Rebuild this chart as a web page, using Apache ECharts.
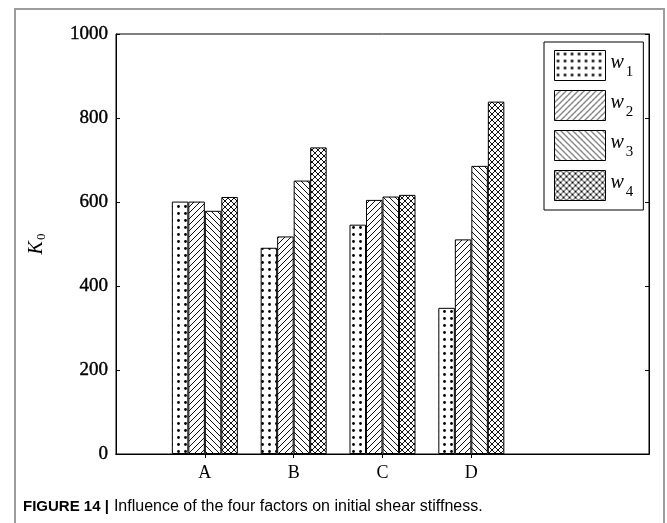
<!DOCTYPE html>
<html>
<head>
<meta charset="utf-8">
<script src="https://cdn.jsdelivr.net/npm/echarts@6/dist/echarts.min.js"></script>
<style>html,body{margin:0;padding:0;background:#fff;}#c{width:667px;height:523px;}</style>
</head>
<body>
<div id="c"></div>
<script>
// ---- data ----
const categories = ['A', 'B', 'C', 'D'];
const seriesNames = ['w1', 'w2', 'w3', 'w4'];
const w1 = [601, 491, 546, 348];
const w2 = [601, 518, 605, 511];
const w3 = [579, 651, 613, 686];
const w4 = [612, 730, 617, 839];
const yTicks = [0, 200, 400, 600, 800, 1000];
const captionBold = 'FIGURE 14 |';
const captionText = 'Influence of the four factors on initial shear stiffness.';

// ---- hatch patterns ----
function tile(w, h, draw) {
  const c = document.createElement('canvas');
  c.width = w; c.height = h;
  const g = c.getContext('2d');
  g.fillStyle = '#fff'; g.fillRect(0, 0, w, h);
  g.strokeStyle = '#111'; g.fillStyle = '#000'; g.lineWidth = 1;
  draw(g, w, h);
  return { image: c, repeat: 'repeat' };
}
function fwd(g, s) { // "/"
  g.beginPath();
  g.moveTo(-1, s + 1); g.lineTo(s + 1, -1);
  g.moveTo(-1, 1); g.lineTo(1, -1);
  g.moveTo(s - 1, s + 1); g.lineTo(s + 1, s - 1);
  g.stroke();
}
function back(g, s) { // "\"
  g.beginPath();
  g.moveTo(-1, -1); g.lineTo(s + 1, s + 1);
  g.moveTo(s - 1, -1); g.lineTo(s + 1, 1);
  g.moveTo(-1, s - 1); g.lineTo(1, s + 1);
  g.stroke();
}
const patterns = [
  tile(7, 7, (g) => { g.beginPath(); g.arc(3.5, 3.5, 1.4, 0, Math.PI * 2); g.fill(); }),
  tile(6, 6, (g, w) => fwd(g, w)),
  tile(6, 6, (g, w) => back(g, w)),
  tile(6, 6, (g, w) => { fwd(g, w); back(g, w); })
];

const values = [w1, w2, w3, w4];
const xData = [''].concat(categories, ['', '']);
const series = seriesNames.map((n, i) => ({
  name: n,
  type: 'bar',
  data: ['-'].concat(values[i], ['-', '-']),
  barWidth: 16.5,
  barGap: '0%',
  itemStyle: { color: patterns[i], borderColor: '#000', borderWidth: 1 },
  emphasis: { disabled: true }
}));

const serif = 'Liberation Serif';
const chart = echarts.init(document.getElementById('c'), null, { renderer: 'canvas' });
chart.setOption({
  animation: false,
  backgroundColor: '#fff',
  grid: { left: 116, top: 34, right: 18, bottom: 69, show: true, borderColor: '#000', borderWidth: 1, backgroundColor: 'transparent' },
  xAxis: [{
    type: 'category', data: xData, boundaryGap: false,
    axisLine: { lineStyle: { color: '#000', width: 1 } },
    axisTick: { show: false },
    axisLabel: { color: '#000', fontFamily: serif, fontSize: 18, margin: 10, interval: 0 },
    splitLine: { show: false }
  }, {
    type: 'category', data: xData, boundaryGap: false, position: 'top',
    axisLine: { show: true, lineStyle: { color: '#000', width: 1 } },
    axisTick: { show: true, inside: true, length: 4, lineStyle: { color: '#000' },
      interval: (idx) => idx >= 1 && idx <= categories.length },
    axisLabel: { show: false },
    splitLine: { show: false }
  }],
  yAxis: [{
    type: 'value', min: yTicks[0], max: yTicks[yTicks.length - 1], interval: yTicks[1] - yTicks[0],
    name: '{k|K}{s|0}', nameLocation: 'middle', nameRotate: 90, nameGap: 68,
    nameTextStyle: {
      rich: {
        k: { fontFamily: serif, fontStyle: 'italic', fontSize: 20, color: '#000' },
        s: { fontFamily: serif, fontSize: 13, color: '#000', padding: [10, 0, 0, 1] }
      }
    },
    axisLine: { show: true, lineStyle: { color: '#000', width: 1 } },
    axisTick: { show: true, inside: true, length: 4, lineStyle: { color: '#000' } },
    axisLabel: { color: '#000', fontFamily: serif, fontSize: 19, margin: 8,
      textBorderColor: '#000', textBorderWidth: 0.4,
      formatter: (v) => String(v) },
    splitLine: { show: false }
  }, {
    type: 'value', position: 'right', min: yTicks[0], max: yTicks[yTicks.length - 1], interval: yTicks[1] - yTicks[0],
    axisLine: { show: true, lineStyle: { color: '#000', width: 1 } },
    axisTick: { show: true, inside: true, length: 4, lineStyle: { color: '#000' } },
    axisLabel: { show: false },
    splitLine: { show: false }
  }],
  legend: {
    orient: 'vertical', left: 544, top: 42,
    padding: [8, 10, 9, 10],
    borderColor: '#000', borderWidth: 1, backgroundColor: '#fff',
    itemWidth: 51, itemHeight: 30, itemGap: 9,
    selectedMode: false,
    itemStyle: { borderColor: '#000', borderWidth: 1 },
    formatter: (name) => '{w|w}{s|' + name.slice(1) + '}',
    textStyle: {
      rich: {
        w: { fontFamily: serif, fontStyle: 'italic', fontSize: 20, color: '#000', padding: [0, 0, 6, 0] },
        s: { fontFamily: serif, fontSize: 15, color: '#000', padding: [14, 0, 0, 2] }
      }
    },
    data: seriesNames.map(n => ({ name: n, icon: 'rect' }))
  },
  title: {
    text: '{b|' + captionBold + '} {n|' + captionText + '}',
    left: 23, top: 498, padding: 0,
    textStyle: {
      fontWeight: 'normal',
      rich: {
        b: { fontFamily: 'Liberation Sans', fontWeight: 'bold', fontSize: 15, color: '#000' },
        n: { fontFamily: 'Liberation Sans', fontWeight: 'normal', fontSize: 16, color: '#000' }
      }
    }
  },
  graphic: [{
    type: 'rect', silent: true, z: -1,
    shape: { x: 15, y: 9, width: 649, height: 530 },
    style: { fill: 'none', stroke: '#9c9c9c', lineWidth: 2 }
  }],
  series: series
});
</script>
</body>
</html>
